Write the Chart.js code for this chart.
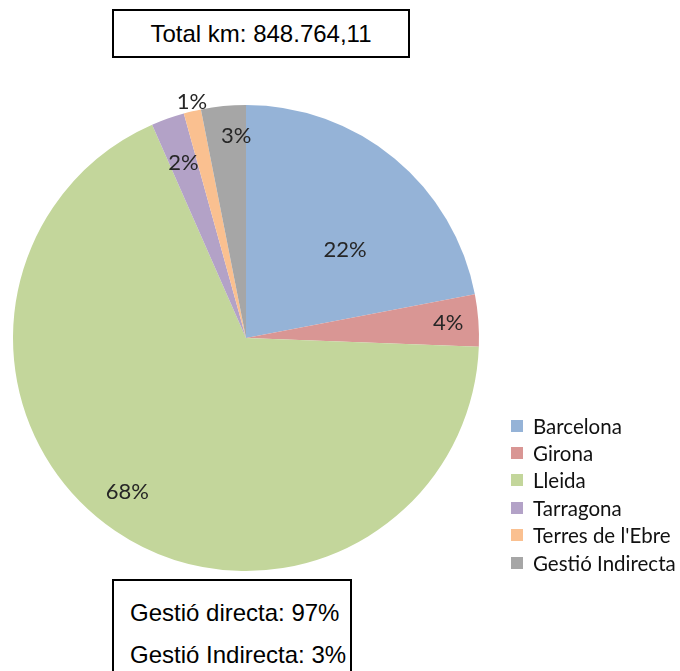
<!DOCTYPE html>
<html>
<head>
<meta charset="utf-8">
<script src="https://cdn.jsdelivr.net/npm/chart.js"></script>
<style>
  body { margin: 0; background: #fff; width: 680px; height: 671px; overflow: hidden; position: relative;
         font-family: "Liberation Sans", Arial, sans-serif; }
  #chart { position: absolute; left: 0; top: 0; }
  .box { position: absolute; border: 2px solid #000; background: #fff; box-sizing: border-box; color: #000; font-size: 24px; }
  #totalBox { left: 112px; top: 9px; width: 298px; height: 49px; text-align: center; line-height: 45px; }
  #gestioBox { left: 112px; top: 579px; width: 240px; height: 110px; padding: 11px 0 0 16px; line-height: 42px; }
  #legend { position: absolute; left: 511px; top: 412px; font-family: Lato, sans-serif; font-size: 20.5px; color: #111; }
  .row { display: flex; align-items: center; height: 27.4px; white-space: nowrap; }
  .sw { width: 12px; height: 12px; margin-right: 10px; }
</style>
</head>
<body>
<canvas id="chart" width="680" height="671"></canvas>
<div class="box" id="totalBox"></div>
<div class="box" id="gestioBox"></div>
<div id="legend"></div>
<script>
// Pie data (% of total km)
const regions = ["Barcelona", "Girona", "Lleida", "Tarragona", "Terres de l'Ebre", "Gestió Indirecta"];
const shares = [22.0, 3.6, 67.8, 2.3, 1.2, 3.1];
const colors = ["#95b3d7", "#d99694", "#c3d69b", "#b3a2c7", "#fac090", "#a6a6a6"];

const totalKm = "848.764,11";
const directShare = 97;
const indirectShare = 3;

document.getElementById("totalBox").textContent = "Total km: " + totalKm;
document.getElementById("gestioBox").innerHTML =
  "<div>Gestió directa: " + directShare + "%</div><div>Gestió Indirecta: " + indirectShare + "%</div>";

// Legend
const legend = document.getElementById("legend");
regions.forEach((name, i) => {
  const row = document.createElement("div");
  row.className = "row";
  row.innerHTML = `<span class="sw" style="background:${colors[i]}"></span><span>${name}</span>`;
  legend.appendChild(row);
});

// Percent labels drawn on the slices
const sliceLabels = {
  id: "sliceLabels",
  afterDatasetsDraw(chart, args, opts) {
    const ctx = chart.ctx;
    const meta = chart.getDatasetMeta(0);
    const values = chart.data.datasets[0].data;
    const total = values.reduce((a, b) => a + b, 0);
    ctx.save();
    ctx.font = "22px Lato, sans-serif";
    ctx.fillStyle = "#262626";
    ctx.textAlign = "center";
    ctx.textBaseline = "middle";
    meta.data.forEach((arc, i) => {
      const p = arc.getProps(["x", "y", "startAngle", "endAngle", "outerRadius"], true);
      const a = p.startAngle + (p.endAngle - p.startAngle) * opts.angleFrac[i];
      const r = p.outerRadius * opts.radius[i];
      const txt = Math.round(values[i] / total * 100) + "%";
      ctx.fillText(txt, p.x + r * Math.cos(a), p.y + r * Math.sin(a));
    });
    ctx.restore();
  }
};

new Chart(document.getElementById("chart"), {
  type: "pie",
  data: {
    labels: regions,
    datasets: [{
      data: shares,
      backgroundColor: colors,
      borderWidth: 0
    }]
  },
  options: {
    responsive: false,
    animation: false,
    layout: { padding: { left: 13, top: 105, right: 201, bottom: 100 } },
    plugins: {
      legend: { display: false },
      tooltip: { enabled: false },
      sliceLabels: {
        radius: [0.57, 0.87, 0.835, 0.8, 1.04, 0.87],
        angleFrac: [0.61, 0.5, 0.514, 0.5, 0.6, 0.75]
      }
    }
  },
  plugins: [sliceLabels]
});
</script>
</body>
</html>
